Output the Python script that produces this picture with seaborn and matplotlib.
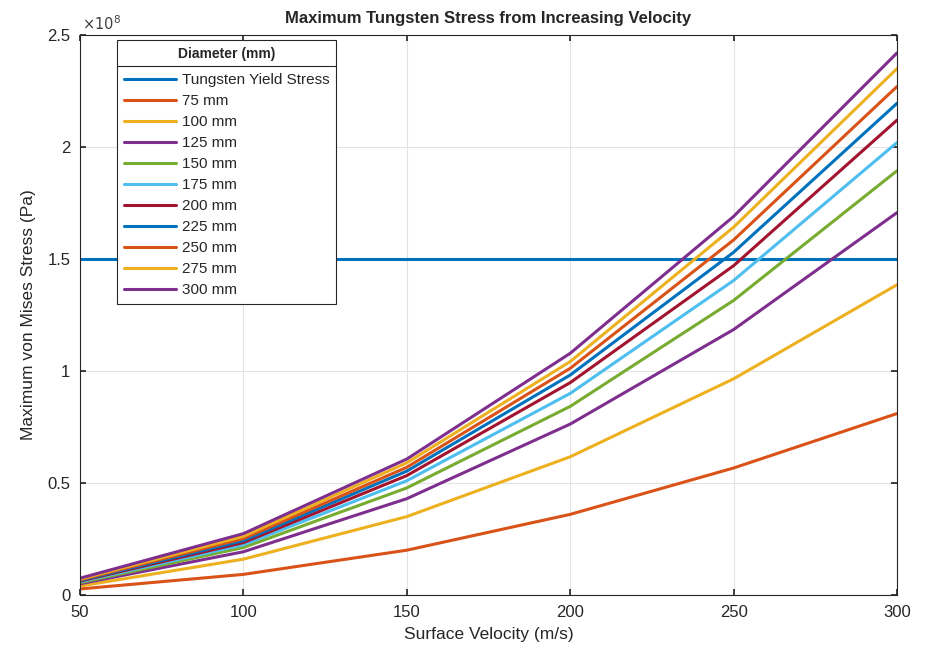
import matplotlib
matplotlib.use("Agg")
import matplotlib.pyplot as plt
from matplotlib.lines import Line2D
import seaborn as sns
import pandas as pd


velocity = [50, 100, 150, 200, 250, 300]
yield_stress = 1.5e8

# max von Mises stress (x1e8 Pa) per diameter
stress_75 = [0.027, 0.092, 0.200, 0.360, 0.567, 0.810]
stress_100 = [0.040, 0.160, 0.350, 0.617, 0.965, 1.385]
stress_125 = [0.050, 0.193, 0.430, 0.763, 1.185, 1.707]
stress_150 = [0.055, 0.212, 0.478, 0.842, 1.315, 1.894]
stress_175 = [0.059, 0.224, 0.510, 0.900, 1.404, 2.020]
stress_200 = [0.062, 0.234, 0.533, 0.948, 1.470, 2.120]
stress_225 = [0.065, 0.243, 0.553, 0.982, 1.530, 2.195]
stress_250 = [0.068, 0.252, 0.570, 1.012, 1.585, 2.270]
stress_275 = [0.071, 0.262, 0.590, 1.042, 1.642, 2.350]
stress_300 = [0.075, 0.274, 0.607, 1.079, 1.690, 2.420]

labels = ["Tungsten Yield Stress", "75 mm", "100 mm", "125 mm", "150 mm", "175 mm",
          "200 mm", "225 mm", "250 mm", "275 mm", "300 mm"]
series = [[yield_stress / 1e8] * len(velocity), stress_75, stress_100, stress_125,
          stress_150, stress_175, stress_200, stress_225, stress_250, stress_275, stress_300]

rows = []
for lab, vals in zip(labels, series):
    for v, s in zip(velocity, vals):
        rows.append({"Velocity": v, "Stress": s * 1e8, "Diameter": lab})
df = pd.DataFrame(rows)

matlab = ["#0072BD", "#D95319", "#EDB120", "#7E2F8E", "#77AC30", "#4DBEEE", "#A2142F"]
palette = [matlab[i % 7] for i in range(len(labels))]

sns.set_theme(style="whitegrid")
plt.rcParams["font.family"] = ["Liberation Sans", "DejaVu Sans"]

fig = plt.figure(figsize=(9.34, 6.55), dpi=100)
ax = fig.add_axes([80 / 934, 60 / 655, 817 / 934, 560 / 655])

sns.lineplot(data=df, x="Velocity", y="Stress", hue="Diameter", hue_order=labels,
             palette=palette, linewidth=2.2, ax=ax, legend=False)

ax.set_xlim(50, 300)
ax.set_ylim(0, 2.5e8)
ax.set_xticks(velocity)
ax.set_yticks([0, 0.5e8, 1e8, 1.5e8, 2e8, 2.5e8])
ax.set_yticklabels(["0", "0.5", "1", "1.5", "2", "2.5"])
ax.tick_params(labelsize=12, colors="#262626", direction="in", length=4,
               bottom=True, left=True, top=True, right=True, pad=7)
ax.grid(True, color="#e3e3e3", linewidth=0.8)
for sp in ax.spines.values():
    sp.set_color("#262626")
    sp.set_linewidth(0.8)
ax.set_facecolor("white")

ax.text(0.003, 1.004, r"$\times10^{8}$", transform=ax.transAxes, fontsize=10.5,
        color="#404040", ha="left", va="bottom")
ax.set_title("Maximum Tungsten Stress from Increasing Velocity",
             fontsize=12, fontweight="bold", pad=9)
ax.set_xlabel("Surface Velocity (m/s)", fontsize=12.5, color="#262626", labelpad=5)
ax.set_ylabel("Maximum von Mises Stress (Pa)", fontsize=12.5, color="#262626", labelpad=8)

handles = [Line2D([0], [0], color=c, linewidth=2.2) for c in palette]
leg = ax.legend(handles, labels, title="Diameter (mm)", loc="upper left",
                bbox_to_anchor=(0.045, 0.991), fontsize=11, frameon=True,
                fancybox=False, edgecolor="#262626", framealpha=1,
                borderaxespad=0, handlelength=3.4, handletextpad=0.4,
                labelspacing=0.46, borderpad=0.45)
leg.get_title().set_fontweight("bold")
leg.get_title().set_fontsize(10)
leg.get_frame().set_linewidth(0.8)
leg._legend_box.sep = 8.6  # more room between title and entries

# separator line under the legend title
fig.canvas.draw()
r = fig.canvas.get_renderer()
fb = leg.get_frame().get_window_extent(r)
tb = leg.get_title().get_window_extent(r)
ysep = tb.y0 - 5
fig.add_artist(Line2D([fb.x0 / 934, fb.x1 / 934], [ysep / 655, ysep / 655],
                      color="#262626", linewidth=0.8, transform=fig.transFigure))

fig.savefig("out.png", dpi=100)
